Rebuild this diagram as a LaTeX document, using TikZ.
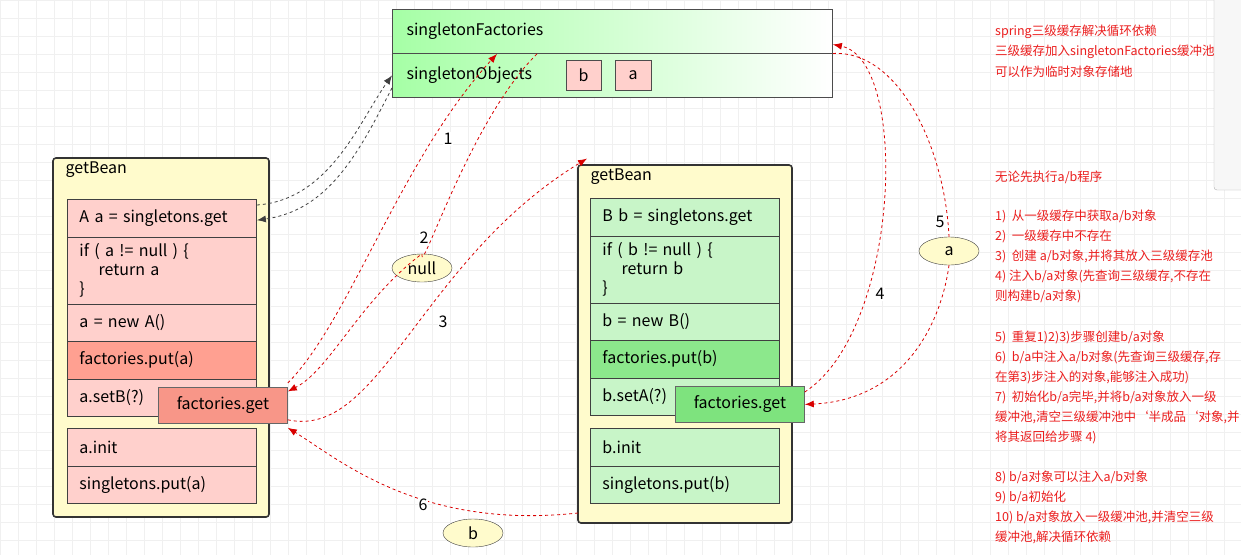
\documentclass[tikz,border=0pt]{standalone}
\usepackage{fontspec}
\setmainfont{Noto Sans CJK SC}
\usetikzlibrary{positioning,arrows.meta,shapes.geometric}
\definecolor{pinkrow}{RGB}{255,208,204}
\definecolor{pinkdark}{RGB}{255,160,145}
\definecolor{pinkget}{RGB}{248,150,136}
\definecolor{greenrow}{RGB}{200,245,200}
\definecolor{greendark}{RGB}{140,232,140}
\definecolor{greenget}{RGB}{126,227,126}
\definecolor{beanbg}{RGB}{255,251,204}
\definecolor{notered}{RGB}{235,30,30}
\tikzset{
  bean/.style={draw=black!80,line width=1.6pt,rounded corners=3pt,fill=beanbg},
  row/.style={draw=black!75,line width=0.9pt,anchor=north west,minimum width=189,minimum height=37.5,text width=165,align=left,inner sep=0pt,font=\fontsize{16}{19}\selectfont},
  getbox/.style={draw=black!60,line width=0.8pt,anchor=north west,minimum width=129,minimum height=36,inner sep=0pt,font=\fontsize{16}{19}\selectfont},
  val/.style={draw=black!75,ellipse,fill=beanbg,minimum width=60,minimum height=28,inner sep=0pt,font=\fontsize{16}{19}\selectfont},
  steplbl/.style={font=\fontsize{16}{19}\selectfont,fill=white,inner sep=1pt},
  redarr/.style={draw=red!85!black,dashed,line width=0.8pt,-{Latex[length=9pt,width=7pt]}},
  blackarr/.style={draw=black!75,dashed,line width=0.8pt,-{Latex[length=9pt,width=7pt]}},
  note/.style={anchor=west,text=notered,font=\fontsize{12.5}{15}\selectfont,inner sep=0pt}
}
\begin{document}
\begin{tikzpicture}[x=1pt,y=-1pt]
\useasboundingbox (0,0) rectangle (1241,555);
\fill[white] (0,0) rectangle (1241,555);
% grid
\foreach \gx in {0,18,...,1230} \draw[black!6,line width=0.5pt] (\gx,0) -- (\gx,555);
\foreach \gy in {0,18,...,550} \draw[black!6,line width=0.5pt] (0,\gy) -- (1241,\gy);
% side toolbar
\draw[black!30,fill=black!3,rounded corners=3pt] (1214,-5) rectangle (1250,190);

% cache box
\node[draw=black!70,line width=0.9pt,anchor=north west,minimum width=440,minimum height=44,left color=green!35,right color=white,inner sep=0pt] (fac) at (392,9) {};
\node[draw=black!70,line width=0.9pt,anchor=north west,minimum width=440,minimum height=44,left color=green!35,right color=white,inner sep=0pt] (obj) at (392,53) {};
\node[anchor=west,font=\fontsize{16}{19}\selectfont] at (403,31) {singletonFactories};
\node[anchor=west,font=\fontsize{16}{19}\selectfont] at (403,75) {singletonObjects};
\node[draw=black!70,fill=pinkrow,minimum width=35,minimum height=30,inner sep=0pt,font=\fontsize{16}{19}\selectfont] (objb) at (583.5,75) {b};
\node[draw=black!70,fill=pinkrow,minimum width=36,minimum height=30,inner sep=0pt,font=\fontsize{16}{19}\selectfont] (obja) at (633,75) {a};

% left getBean
\draw[bean] (53,158) rectangle (269,517);
\node[anchor=west,font=\fontsize{16}{19}\selectfont] at (62,170) {getBean};
\node[row,fill=pinkrow] (ga) at (67,199) {A a = singletons.get};
\node[row,fill=pinkrow,minimum height=67] (ifa) at (67,236.5) {if ( a != null ) \{\\\hspace*{1.2em}return a\\\}};
\node[row,fill=pinkrow] (newa) at (67,303.5) {a = new A()};
\node[row,fill=pinkdark] (puta) at (67,341) {factories.put(a)};
\node[row,fill=pinkrow] (seta) at (67,378.5) {a.setB(?)};
\node[row,fill=pinkrow] (inita) at (67,428) {a.init};
\node[row,fill=pinkrow] (spa) at (67,465.5) {singletons.put(a)};
\node[getbox,fill=pinkget] (geta) at (158,387) {factories.get};

% right getBean
\draw[bean] (578,165) rectangle (792,523);
\node[anchor=west,font=\fontsize{16}{19}\selectfont] (titb) at (587,177) {getBean};
\node[row,fill=greenrow] (gb) at (590,198) {B b = singletons.get};
\node[row,fill=greenrow,minimum height=67] (ifb) at (590,235.5) {if ( b != null ) \{\\\hspace*{1.2em}return b\\\}};
\node[row,fill=greenrow] (newb) at (590,302.5) {b = new B()};
\node[row,fill=greendark] (putb) at (590,340) {factories.put(b)};
\node[row,fill=greenrow] (setb) at (590,377.5) {b.setA(?)};
\node[row,fill=greenrow] (initb) at (590,428) {b.init};
\node[row,fill=greenrow] (spb) at (590,465.5) {singletons.put(b)};
\node[getbox,fill=greenget] (getb) at (675,386) {factories.get};

% values
\node[val] (vnull) at (422,268) {null};
\node[val] (va) at (949,251) {a};
\node[val] (vb) at (473,533) {b};
\coordinate (botb) at (578,513);

% black arrows
\draw[blackarr] (ga.north east) ++(0,6) .. controls (330,200) and (360,120) .. (obj.west);
\draw[blackarr] (obj.south west) ++(0,-10) .. controls (360,150) and (330,210) .. ([yshift=-2]ga.east);

% red arrows
\draw[redarr] ([yshift=4]geta.north east) .. controls (350,320) and (400,160) .. ([xshift=105]fac.south west);
\draw[redarr] ([xshift=145]fac.south west) .. controls (470,120) and (420,280) .. (vnull.north) .. controls (360,300) and (330,370) .. ([yshift=14]geta.east);
\draw[redarr] ([yshift=4]geta.south east) .. controls (380,440) and (420,260) .. ([yshift=7]titb.north west);
\draw[redarr] ([yshift=-6]getb.north east) .. controls (900,330) and (910,60) .. ([yshift=-13]fac.east);
\draw[redarr] ([yshift=-22]fac.east) .. controls (900,50) and (945,150) .. (va.north) (va.south) .. controls (940,330) and (900,400) .. (getb.east);
\draw[redarr] (botb) .. controls (420,530) and (340,460) .. ([yshift=-4]geta.south east);

% step labels
\node[steplbl] at (448,139) {1};
\node[steplbl] at (424,238) {2};
\node[steplbl] at (443,322) {3};
\node[steplbl] at (880,294) {4};
\node[steplbl] at (940,222) {5};
\node[steplbl] at (423,505) {6};

% notes
\foreach \ny/\nt in {32/{spring三级缓存解决循环依赖},52/{三级缓存加入singletonFactories缓冲池},72/{可以作为临时对象存储地},177/{无论先执行a/b程序},216/{1)\ \ 从一级缓存中获取a/b对象},236/{2)\ \ 一级缓存中不存在},256/{3)\ \ 创建 a/b对象,并将其放入三级缓存池},276/{4) 注入b/a对象(先查询三级缓存,不存在},296/{则构建b/a对象)},337/{5)\ \ 重复1)2)3)步骤创建b/a对象},357/{6)\ \ b/a中注入a/b对象(先查询三级缓存,存},377/{在第3)步注入的对象,能够注入成功)},397/{7)\ \ 初始化b/a完毕,并将b/a对象放入一级},417/{缓冲池,清空三级缓冲池中`半成品`对象,并},437/{将其返回给步骤 4)},477/{8) b/a对象可以注入a/b对象},497/{9) b/a初始化},517/{10) b/a对象放入一级缓冲池,并清空三级},537/{缓冲池,解决循环依赖}}
  \node[note] at (995,\ny) {\nt};
\end{tikzpicture}
\end{document}
